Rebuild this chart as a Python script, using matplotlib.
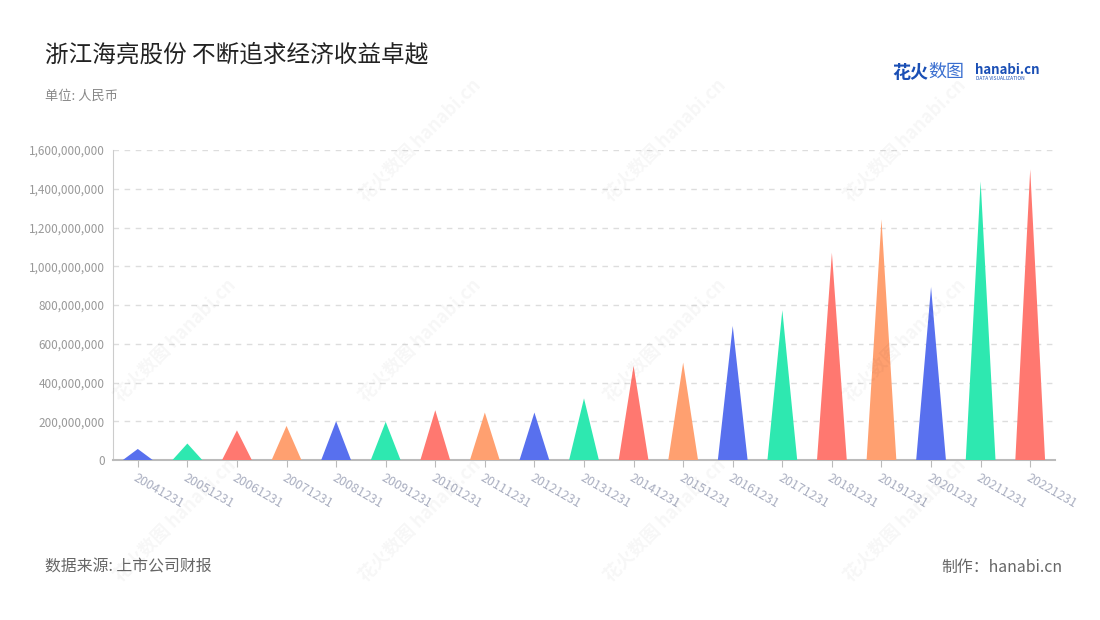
import matplotlib
matplotlib.use("Agg")
import matplotlib.pyplot as plt
from matplotlib.ticker import FuncFormatter

plt.rcParams['font.family'] = ['Noto Sans CJK SC', 'DejaVu Sans']

# dados
anos = ["20041231", "20051231", "20061231", "20071231", "20081231", "20091231",
        "20101231", "20111231", "20121231", "20131231", "20141231", "20151231",
        "20161231", "20171231", "20181231", "20191231", "20201231", "20211231",
        "20221231"]
valores = [57e6, 85e6, 153e6, 176e6, 200e6, 197e6, 257e6, 245e6, 245e6, 318e6,
           486e6, 503e6, 692e6, 773e6, 1070e6, 1242e6, 893e6, 1438e6, 1500e6]
cores = ["#5870EE", "#2EE8B0", "#FF7870", "#FFA070"]
y_ticks = [0, 200e6, 400e6, 600e6, 800e6, 1000e6, 1200e6, 1400e6, 1600e6]

fig = plt.figure(figsize=(11, 6.2), dpi=100)
ax = fig.add_axes([113 / 1100, 160 / 620, 942 / 1100, 310 / 620])

meia = 0.30
for i, v in enumerate(valores):
    ax.fill([i - meia, i, i + meia], [0, v, 0], color=cores[i % 4], lw=0, zorder=3)

ax.set_xlim(-0.5, len(anos) - 0.5)
ax.set_ylim(0, 1.6e9)
ax.set_yticks(y_ticks)
ax.yaxis.set_major_formatter(FuncFormatter(lambda v, p: f"{int(v):,}"))
ax.set_xticks(range(len(anos)))
ax.set_xticklabels(anos, rotation=-30, ha="left", va="top", rotation_mode="anchor")

ax.grid(axis="y", color="#dddddd", linestyle=(0, (4, 4)), lw=1, zorder=0)
for s in ["top", "right"]:
    ax.spines[s].set_visible(False)
ax.spines["left"].set_color("#cccccc")
ax.spines["bottom"].set_color("#bbbbbb")
ax.spines["bottom"].set_linewidth(1.5)
ax.tick_params(axis="y", length=0, labelsize=8.5, labelcolor="#999999", pad=6)
ax.tick_params(axis="x", length=5, color="#bbbbbb", labelsize=9, labelcolor="#a9aec0", pad=3)

# textos
fig.text(45 / 1100, 1 - 55 / 620, "浙江海亮股份 不断追求经济收益卓越", fontsize=17,
         color="#222222", va="center")
fig.text(45 / 1100, 1 - 96 / 620, "单位: 人民币", fontsize=9.5, color="#888888", va="center")
fig.text(45 / 1100, 1 - 567 / 620, "数据来源: 上市公司财报", fontsize=11.4, color="#666666", va="center")
fig.text(1062 / 1100, 1 - 567 / 620, "制作：hanabi.cn", fontsize=11.4, color="#666666",
         va="center", ha="right")

# logo
fig.text(892 / 1100, 1 - 72 / 620, "花火", fontsize=13, color="#1a4fb5", weight="bold", va="center")
fig.text(928 / 1100, 1 - 72 / 620, "数图", fontsize=13, color="#3a6fd0", va="center")
fig.text(975 / 1100, 1 - 70 / 620, "hanabi.cn", fontsize=9.5, color="#1a4fb5", weight="bold", va="center")
fig.text(976 / 1100, 1 - 79 / 620, "DATA VISUALIZATION", fontsize=3.5, color="#1a4fb5", va="center")

# marca d'água
for (wx, wy) in [(420, 140), (665, 140), (905, 140), (175, 340), (420, 340), (665, 340),
                 (905, 340), (175, 520), (420, 520), (665, 520), (905, 520)]:
    fig.text(wx / 1100, 1 - wy / 620, "花火数图 hanabi.cn", fontsize=13, color="#000000",
             alpha=0.035, rotation=45, ha="center", va="center", weight="bold")

fig.savefig("out.png", dpi=100)
